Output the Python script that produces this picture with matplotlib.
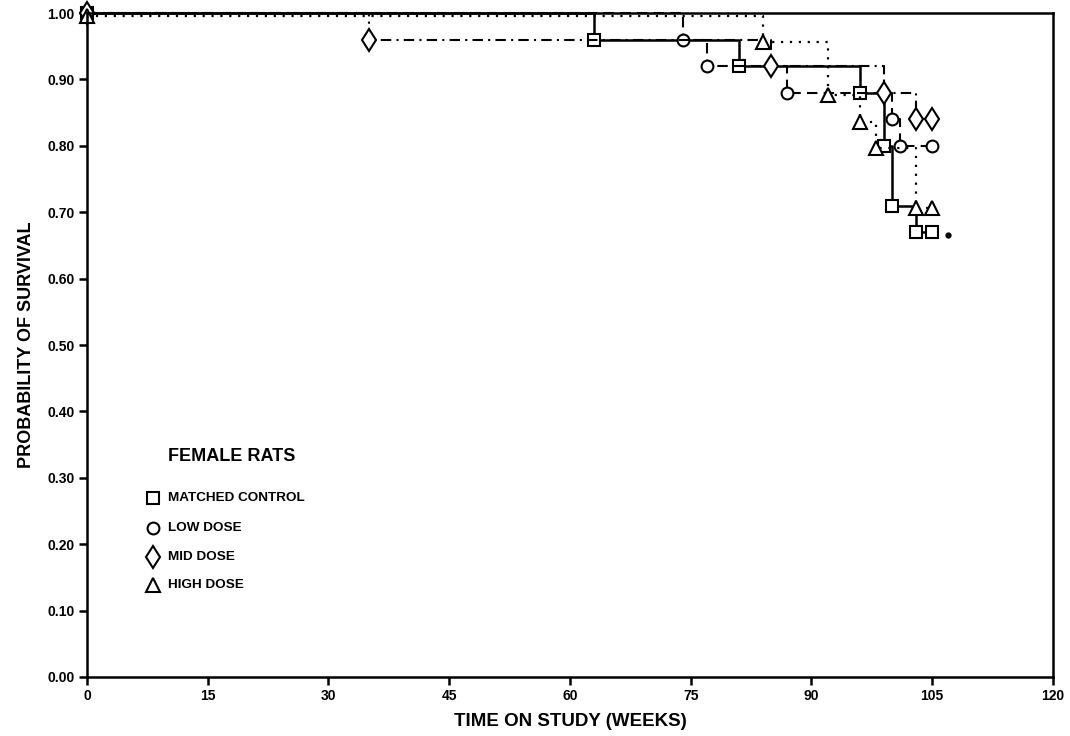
import matplotlib.pyplot as plt
from matplotlib.transforms import ScaledTranslation

plt.rcParams['font.family'] = ['Liberation Sans', 'DejaVu Sans']
plt.rcParams['font.weight'] = 'bold'

# Kaplan-Meier style step data (weeks, survival probability)
control_t = [0, 63, 81, 96, 99, 100, 103, 105]
control_s = [1.00, 0.96, 0.92, 0.88, 0.80, 0.71, 0.67, 0.67]

low_t = [0, 74, 77, 87, 100, 101, 105]
low_s = [1.00, 0.96, 0.92, 0.88, 0.84, 0.80, 0.80]

mid_t = [0, 35, 85, 99, 103, 105]
mid_s = [1.00, 0.96, 0.92, 0.88, 0.84, 0.84]

high_t = [0, 84, 92, 96, 98, 103, 105]
high_s = [1.00, 0.96, 0.88, 0.84, 0.80, 0.71, 0.71]

stray_dot = (107, 0.665)

labels = ['MATCHED CONTROL', 'LOW DOSE', 'MID DOSE', 'HIGH DOSE']
x_ticks = [0, 15, 30, 45, 60, 75, 90, 105, 120]
y_ticks = [0.0, 0.1, 0.2, 0.3, 0.4, 0.5, 0.6, 0.7, 0.8, 0.9, 1.0]

fig = plt.figure(figsize=(10.7, 7.36), dpi=100)
ax = fig.add_axes([0.0813, 0.0802, 0.9027, 0.902])

mk = dict(mfc='white', mec='black', mew=1.5, color='black', clip_on=False,
          drawstyle='steps-post')

ax.plot(control_t, control_s, ls='-', lw=1.8, marker='s', ms=8, **mk)
ax.plot(low_t, low_s, ls=(0, (5, 3)), lw=1.5, marker='o', ms=8.5, **mk)
ax.plot(mid_t, mid_s, ls=(0, (5, 2.5, 1, 2.5)), lw=1.5, marker='d', ms=11.5, **mk)
# dotted curve drawn a little low so it stays visible under the 1.00 line
shift = ax.transData + ScaledTranslation(0, -2.5 / 100, fig.dpi_scale_trans)
ax.plot(high_t, high_s, ls=(0, (1, 3)), lw=1.6, marker='^', ms=9.5,
        transform=shift, **mk)
ax.plot([stray_dot[0]], [stray_dot[1]], 'o', color='black', ms=3.5)

ax.set_xlim(0, 120)
ax.set_ylim(0, 1.0)
ax.set_xticks(x_ticks)
ax.set_xticklabels([str(v) for v in x_ticks])
ax.set_yticks(y_ticks)
ax.set_yticklabels(['%.2f' % v for v in y_ticks])
ax.tick_params(direction='out', length=6, width=1.8, labelsize=10, pad=3)
for sp in ax.spines.values():
    sp.set_linewidth(1.8)

ax.set_xlabel('TIME ON STUDY (WEEKS)', fontsize=13.5, fontweight='bold', labelpad=7)
ax.set_ylabel('PROBABILITY OF SURVIVAL', fontsize=13, fontweight='bold', labelpad=9)

# legend block
ax.text(0.0839, 0.332, 'FEMALE RATS', transform=ax.transAxes, fontsize=13,
        fontweight='bold', ha='left', va='center')
leg_markers = ['s', 'o', 'd', '^']
leg_sizes = [8, 8.5, 11.5, 9.5]
leg_y = [0.270, 0.225, 0.181, 0.139]
for m, s, yy, lab in zip(leg_markers, leg_sizes, leg_y, labels):
    ax.plot([0.0683], [yy], marker=m, ms=s, mfc='white', mec='black', mew=1.5,
            ls='none', transform=ax.transAxes)
    ax.text(0.0839, yy, lab, transform=ax.transAxes, fontsize=9.7,
            fontweight='bold', ha='left', va='center')

fig.savefig('out.png', dpi=100)
